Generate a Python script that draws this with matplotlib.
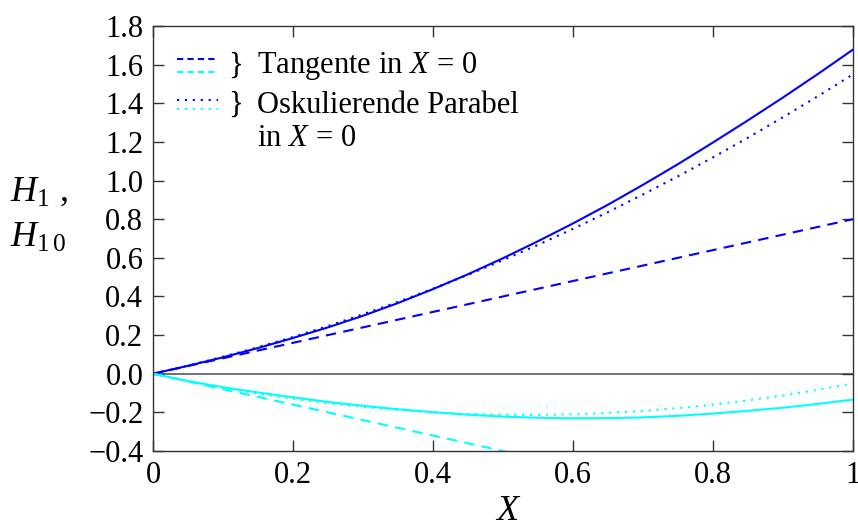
import matplotlib
matplotlib.use("Agg")
import matplotlib.pyplot as plt

plt.rcParams['font.family'] = ['Liberation Serif', 'DejaVu Serif']
plt.rcParams['mathtext.fontset'] = 'custom'
plt.rcParams['mathtext.rm'] = 'Liberation Serif'
plt.rcParams['mathtext.it'] = 'Liberation Serif:italic'

# values
x = [0.0, 0.05, 0.1, 0.15, 0.2, 0.25, 0.3, 0.35, 0.4, 0.45, 0.5,
     0.55, 0.6, 0.65, 0.7, 0.75, 0.8, 0.85, 0.9, 0.95, 1.0]
h1 = [0.0, 0.041, 0.085, 0.133, 0.185, 0.240, 0.300, 0.366, 0.438, 0.515, 0.598,
      0.686, 0.778, 0.875, 0.978, 1.085, 1.197, 1.312, 1.430, 1.552, 1.678]
h10 = [0.0, -0.038, -0.070, -0.097, -0.122, -0.146, -0.166, -0.184, -0.199, -0.212, -0.222,
       -0.228, -0.231, -0.230, -0.226, -0.218, -0.206, -0.192, -0.176, -0.156, -0.134]
h1_par = [0.0, 0.042, 0.088, 0.137, 0.190, 0.247, 0.308, 0.372, 0.440, 0.512, 0.588,
          0.667, 0.750, 0.837, 0.928, 1.022, 1.120, 1.222, 1.328, 1.437, 1.550]
h10_par = [0.0, -0.038, -0.072, -0.103, -0.130, -0.153, -0.172, -0.188, -0.200, -0.208, -0.212,
           -0.213, -0.210, -0.203, -0.193, -0.178, -0.160, -0.138, -0.113, -0.083, -0.050]
tan_x = [0.0, 1.0]
h1_tan = [0.0, 0.8]
h10_tan = [0.0, -0.8]

xticks = [0, 0.2, 0.4, 0.6, 0.8, 1]
xticklabels = ['0', '0.2', '0.4', '0.6', '0.8', '1']
yticks = [-0.4, -0.2, 0.0, 0.2, 0.4, 0.6, 0.8, 1.0, 1.2, 1.4, 1.6, 1.8]
yticklabels = ['\u22120.4', '\u22120.2', '0.0', '0.2', '0.4', '0.6', '0.8',
               '1.0', '1.2', '1.4', '1.6', '1.8']

blue = '#0000ff'
cyan = '#00ffff'
lw = 1.5

fig = plt.figure(figsize=(8.58, 5.27), dpi=100)
ax = fig.add_axes([153 / 858, 1 - 451 / 527, 700 / 858, 425 / 527])

ax.axhline(0, color='#707070', lw=1.4, zorder=1)

dash = (0, (5, 3.5))
dot = (0, (1, 2.8))
ax.plot(x, h1, color=blue, lw=lw)
ax.plot(tan_x, h1_tan, color=blue, lw=lw, linestyle=dash)
ax.plot(x, h1_par, color=blue, lw=lw, linestyle=dot)
ax.plot(x, h10, color=cyan, lw=lw)
ax.plot(tan_x, h10_tan, color=cyan, lw=lw, linestyle=dash)
ax.plot(x, h10_par, color=cyan, lw=lw, linestyle=dot)

ax.set_xlim(0, 1)
ax.set_ylim(-0.4, 1.8)
ax.set_xticks(xticks)
ax.set_xticklabels(xticklabels)
ax.set_yticks(yticks)
ax.set_yticklabels(yticklabels)
ax.tick_params(direction='in', length=8, width=1, top=True, right=True,
               labelsize=22, pad=7, color='#333333')
for s in ax.spines.values():
    s.set_color('#333333')
    s.set_linewidth(1.0)

# hand-made legend
tr = ax.transAxes
leg_dash = (0, (3, 2))
ax.plot([0.034, 0.093], [0.922, 0.922], color=blue, lw=lw, linestyle=leg_dash, transform=tr, clip_on=False)
ax.plot([0.034, 0.093], [0.892, 0.892], color=cyan, lw=lw, linestyle=leg_dash, transform=tr, clip_on=False)
ax.plot([0.034, 0.093], [0.826, 0.826], color=blue, lw=lw, linestyle=dot, transform=tr, clip_on=False)
ax.plot([0.034, 0.093], [0.805, 0.805], color=cyan, lw=lw, linestyle=dot, transform=tr, clip_on=False)
ax.text(0.108, 0.906, '}', fontsize=22, va='center', ha='left', transform=tr)
ax.text(0.108, 0.814, '}', fontsize=22, va='center', ha='left', transform=tr)
ax.text(0.149, 0.906, 'Tangente in $X\\,{=}\\,0$', fontsize=22, va='center', ha='left', transform=tr)
ax.text(0.149, 0.814, 'Oskulierende Parabel', fontsize=22, va='center', ha='left', transform=tr)
ax.text(0.149, 0.736, 'in $X\\,{=}\\,0$', fontsize=22, va='center', ha='left', transform=tr)

fig.text(10 / 858, 1 - 192 / 527, '$H_1$ ,', fontsize=26, va='center', ha='left')
fig.text(10 / 858, 1 - 238 / 527, '$H_{1\\,0}$', fontsize=26, va='center', ha='left')
fig.text(508 / 858, 1 - 512 / 527, '$X$', fontsize=26, va='center', ha='center')

fig.savefig('out.png', dpi=100)
